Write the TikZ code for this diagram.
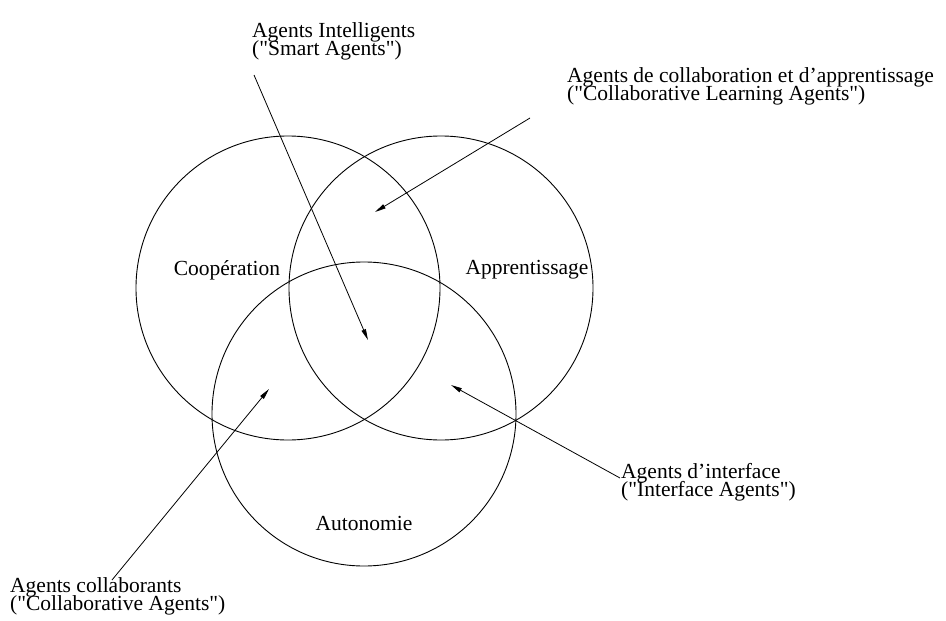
\documentclass[tikz,border=0pt]{standalone}
\usepackage{fontspec}
\setmainfont{Liberation Serif}[Ligatures=TeXOff]
\usetikzlibrary{arrows.meta}
\newcommand{\lblfont}{\fontsize{21.5}{18}\selectfont\lineskiplimit=-40pt\relax\lineskip=0pt\relax}
\tikzset{
  set/.style={circle, draw, line width=0.9pt, minimum size=304pt, inner sep=0pt},
  lbl/.style={anchor=base west, align=left, inner sep=0pt, font=\lblfont},
  setname/.style={inner sep=0pt, font=\fontsize{21.5}{18}\selectfont},
  ptr/.style={line width=0.8pt, -{Stealth[length=11pt,width=4.5pt,inset=0pt]}}
}
\begin{document}
\begin{tikzpicture}[x=1pt,y=-1pt]
\useasboundingbox (0,0) rectangle (946,621);
\node[set] (coop) at (288,288) {};
\node[set] (appr) at (441,288) {};
\node[set] (auto) at (364,414) {};
\node[setname] (tcoop) at (227,270) {Coopération};
\node[setname] (tappr) at (527,270) {Apprentissage};
\node[setname] (tauto) at (364,523) {Autonomie};

\node[lbl] (smart) at (252,56) {Agents Intelligents\\("Smart Agents")};
\node[lbl] (clearn) at (567,100) {Agents de collaboration et d’apprentissage\\("Collaborative Learning Agents")};
\node[lbl] (iface) at (621,496) {Agents d’interface\\("Interface Agents")};
\node[lbl] (collab) at (10,610) {Agents collaborants\\("Collaborative Agents")};

\coordinate (s0) at (254,75);
\coordinate (s1) at (368,340);
\coordinate (c0) at (530,118);
\coordinate (c1) at (375,212);
\coordinate (i0) at (620,478);
\coordinate (i1) at (451,385);
\coordinate (a0) at (112,580);
\coordinate (a1) at (269,389);
\draw[ptr] (s0) -- (s1);
\draw[ptr] (c0) -- (c1);
\draw[ptr] (i0) -- (i1);
\draw[ptr] (a0) -- (a1);
\end{tikzpicture}
\end{document}
